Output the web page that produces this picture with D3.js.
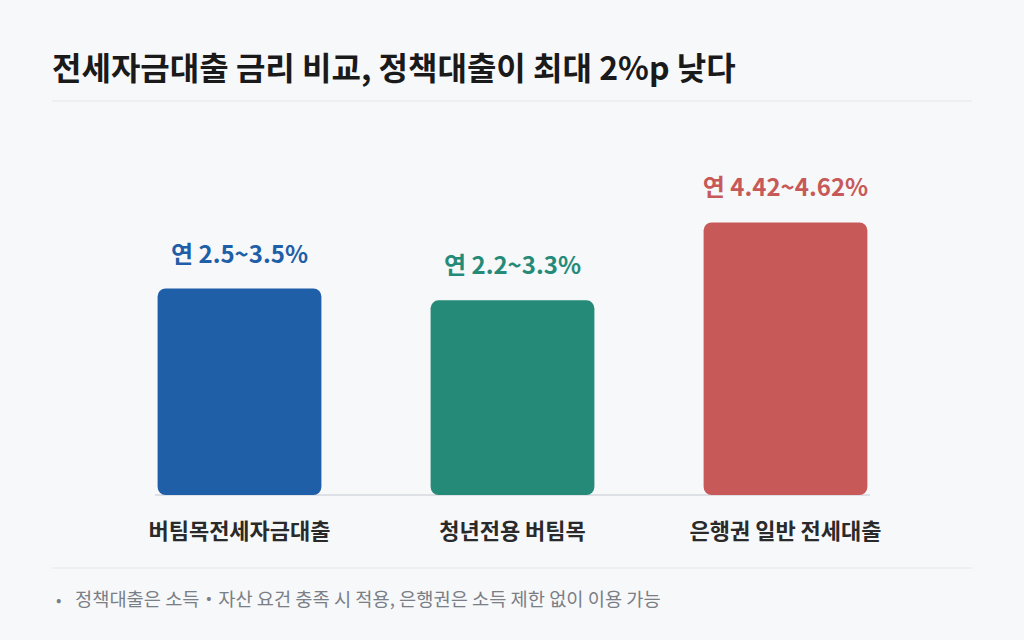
<!DOCTYPE html>
<html><head><meta charset="utf-8">
<script src="https://cdn.jsdelivr.net/npm/d3@7"></script>
<style>body{margin:0;background:#f7f8fa;font-family:"Noto Sans CJK KR","Noto Sans",sans-serif;}</style>
</head><body><svg id="chart" width="1024" height="640"></svg>
<script>
const categories = ["버팀목전세자금대출", "청년전용 버팀목", "은행권 일반 전세대출"];
const maxRates = [3.5, 3.3, 4.62];
const rateLabels = ["연 2.5~3.5%", "연 2.2~3.3%", "연 4.42~4.62%"];
const colors = ["#1f5fa8", "#258b78", "#c75a58"];

const svg = d3.select("#chart");
svg.append("rect").attr("width", 1024).attr("height", 640).attr("fill", "#f7f8fa");

svg.append("text").attr("x", 52).attr("y", 80)
  .attr("font-size", 32).attr("font-weight", 700).attr("fill", "#1a1a1a")
  .text("전세자금대출 금리 비교, 정책대출이 최대 2%p 낮다");
svg.append("line").attr("x1", 52).attr("x2", 972).attr("y1", 101).attr("y2", 101)
  .attr("stroke", "#e3e6ea");

const x = d3.scaleBand().domain(categories).range([103, 922]).paddingInner(0.4).paddingOuter(0.2);
const y = d3.scaleLinear().domain([0, 6]).range([495, 141]);

svg.append("line").attr("x1", 155).attr("x2", 870).attr("y1", 495).attr("y2", 495)
  .attr("stroke", "#d5d9de").attr("stroke-width", 1.5);

const g = svg.append("g");
g.selectAll("rect.bar").data(categories).enter().append("rect")
  .attr("class", "bar")
  .attr("x", d => x(d))
  .attr("y", (d, i) => y(maxRates[i]))
  .attr("width", x.bandwidth())
  .attr("height", (d, i) => y(0) - y(maxRates[i]))
  .attr("rx", 8)
  .attr("fill", (d, i) => colors[i]);

g.selectAll("text.val").data(categories).enter().append("text")
  .attr("x", d => x(d) + x.bandwidth() / 2)
  .attr("y", (d, i) => y(maxRates[i]) - 26)
  .attr("text-anchor", "middle").attr("font-size", 24).attr("font-weight", 700)
  .attr("fill", (d, i) => colors[i])
  .text((d, i) => rateLabels[i]);

g.selectAll("text.cat").data(categories).enter().append("text")
  .attr("x", d => x(d) + x.bandwidth() / 2)
  .attr("y", 539)
  .attr("text-anchor", "middle").attr("font-size", 22).attr("font-weight", 600)
  .attr("fill", "#2a2a2a")
  .text(d => d);

svg.append("line").attr("x1", 52).attr("x2", 972).attr("y1", 568).attr("y2", 568)
  .attr("stroke", "#e3e6ea");
svg.append("text").attr("x", 56).attr("y", 606).attr("font-size", 16).attr("fill", "#7a7f86")
  .text("•");
svg.append("text").attr("x", 75).attr("y", 606).attr("font-size", 18.7).attr("fill", "#7a7f86")
  .text("정책대출은 소득・자산 요건 충족 시 적용, 은행권은 소득 제한 없이 이용 가능");
</script></body></html>
